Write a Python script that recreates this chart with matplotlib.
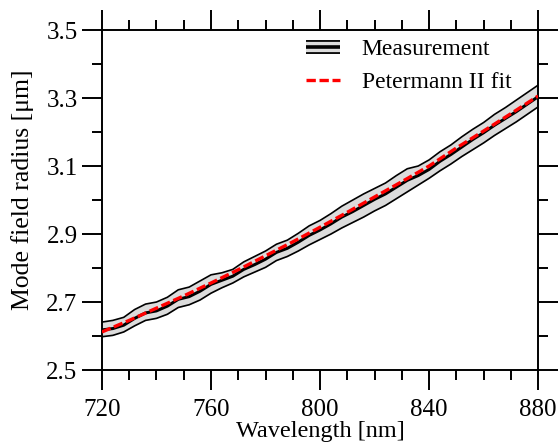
import numpy as np
import matplotlib
matplotlib.use("Agg")
import matplotlib.pyplot as plt
from matplotlib.lines import Line2D
from matplotlib.legend_handler import HandlerTuple
from matplotlib.ticker import MultipleLocator

plt.rcParams['font.family'] = ['Liberation Serif', 'DejaVu Serif']

# measured mode field radius (um) vs wavelength (nm)
wavelength = np.arange(720, 881, 4)
meas_center = [2.618, 2.622, 2.632, 2.652, 2.668, 2.674, 2.688, 2.708, 2.716, 2.732,
               2.752, 2.764, 2.776, 2.796, 2.810, 2.826, 2.846, 2.858, 2.876, 2.896,
               2.912, 2.930, 2.950, 2.966, 2.984, 3.002, 3.018, 3.038, 3.058, 3.072,
               3.090, 3.114, 3.134, 3.156, 3.178, 3.198, 3.220, 3.240, 3.260, 3.282,
               3.304]
meas_upper = [2.641, 2.646, 2.655, 2.678, 2.694, 2.700, 2.714, 2.736, 2.744, 2.762,
              2.780, 2.786, 2.796, 2.818, 2.834, 2.850, 2.870, 2.882, 2.902, 2.924,
              2.940, 2.960, 2.982, 3.000, 3.018, 3.034, 3.050, 3.072, 3.092, 3.100,
              3.118, 3.142, 3.162, 3.186, 3.208, 3.228, 3.252, 3.272, 3.294, 3.316,
              3.338]
meas_lower = [2.598, 2.602, 2.612, 2.630, 2.646, 2.652, 2.664, 2.684, 2.692, 2.706,
              2.726, 2.742, 2.756, 2.774, 2.788, 2.802, 2.822, 2.834, 2.850, 2.868,
              2.884, 2.900, 2.918, 2.934, 2.950, 2.968, 2.984, 3.004, 3.024, 3.044,
              3.064, 3.086, 3.106, 3.128, 3.148, 3.168, 3.190, 3.210, 3.230, 3.252,
              3.274]

fit_wavelength = np.arange(720, 881, 10)
fit_radius = [2.612, 2.646, 2.682, 2.718, 2.756, 2.795, 2.836, 2.877, 2.920,
              2.964, 3.009, 3.054, 3.100, 3.153, 3.203, 3.254, 3.306]

y_major = [2.5, 2.7, 2.9, 3.1, 3.3, 3.5]
y_minor = [2.6, 2.8, 3.0, 3.2, 3.4]

fig = plt.figure(figsize=(5.6, 4.48), dpi=100)
ax = fig.add_axes([0.182, 0.174, 0.779, 0.759])

ax.fill_between(wavelength, meas_lower, meas_upper, color='#dcdcdc', lw=0, zorder=1)
ax.plot(wavelength, meas_upper, color='black', lw=1.2, zorder=2)
ax.plot(wavelength, meas_lower, color='black', lw=1.2, zorder=2)
ax.plot(wavelength, meas_center, color='black', lw=2.2, zorder=3)
ax.plot(fit_wavelength, fit_radius, color='red', lw=2.4, ls=(0, (2.8, 1.1)), zorder=4)

ax.set_xlim(720, 880)
ax.set_ylim(2.5, 3.5)
ax.xaxis.set_major_locator(MultipleLocator(40))
ax.xaxis.set_minor_locator(MultipleLocator(10))
ax.set_yticks(y_major)
ax.set_yticks(y_minor, minor=True)
ax.set_yticklabels([f'{v:.1f}' for v in y_major])

for s in ax.spines.values():
    s.set_linewidth(1.4)
ax.tick_params(which='both', direction='out', top=True, right=True, width=1.4,
               labelsize=18)
ax.tick_params(which='major', length=14.5)
ax.tick_params(which='minor', length=7.2)
ax.tick_params(axis='x', which='major', pad=6)
ax.tick_params(axis='y', which='major', pad=3)

ax.set_xlabel('Wavelength [nm]', fontsize=17.5, labelpad=0)
ax.set_ylabel('Mode field radius [μm]', fontsize=18.5)
ax.yaxis.set_label_coords(-0.155, 0.53)

meas_handle = (Line2D([], [], color='black', lw=10, solid_capstyle='butt'),
               Line2D([], [], color='#dcdcdc', lw=7.4, solid_capstyle='butt'),
               Line2D([], [], color='black', lw=2.6, solid_capstyle='butt'))
fit_handle = Line2D([], [], color='red', lw=2.4, ls=(0, (2.8, 1.1)))
ax.legend([meas_handle, fit_handle], ['Measurement', 'Petermann II fit'],
          handler_map={tuple: HandlerTuple(ndivide=1)},
          loc='upper left', bbox_to_anchor=(0.468, 0.975), frameon=False,
          fontsize=17, handlelength=1.45, handletextpad=0.9, labelspacing=0.5,
          borderpad=0, borderaxespad=0)

fig.savefig('out.png', dpi=100)
